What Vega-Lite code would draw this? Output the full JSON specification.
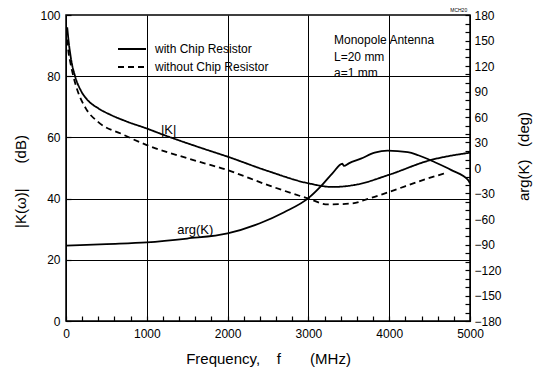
{
  "$schema": "https://vega.github.io/schema/vega-lite/v6.json",
  "autosize": {"type": "none"},
  "padding": {"left": 66, "top": 15, "right": 66, "bottom": 49},
  "width": 404,
  "height": 306,
  "background": "white",
  "config": {
    "font": "Liberation Sans",
    "view": {"stroke": "black", "strokeWidth": 1.5},
    "axis": {"domainColor": "black", "tickColor": "black", "gridColor": "black", "labelColor": "black", "titleColor": "black", "labelFont": "Liberation Sans", "titleFont": "Liberation Sans", "labelFontSize": 12, "titleFontSize": 15, "titleFontWeight": "normal", "labelOverlap": false, "labelBound": false, "labelFlush": false}
  },
  "datasets": {
    "K": [
      {"curve": "with Chip Resistor", "f": 15, "v": 96},
      {"curve": "with Chip Resistor", "f": 30, "v": 92},
      {"curve": "with Chip Resistor", "f": 60, "v": 86},
      {"curve": "with Chip Resistor", "f": 112, "v": 80},
      {"curve": "with Chip Resistor", "f": 180, "v": 75.5},
      {"curve": "with Chip Resistor", "f": 257, "v": 72.5},
      {"curve": "with Chip Resistor", "f": 400, "v": 69.5},
      {"curve": "with Chip Resistor", "f": 550, "v": 67.4},
      {"curve": "with Chip Resistor", "f": 750, "v": 65.2},
      {"curve": "with Chip Resistor", "f": 1000, "v": 62.9},
      {"curve": "with Chip Resistor", "f": 1200, "v": 60.9},
      {"curve": "with Chip Resistor", "f": 1600, "v": 57.2},
      {"curve": "with Chip Resistor", "f": 2000, "v": 53.7},
      {"curve": "with Chip Resistor", "f": 2500, "v": 49},
      {"curve": "with Chip Resistor", "f": 3000, "v": 45},
      {"curve": "with Chip Resistor", "f": 3300, "v": 43.8},
      {"curve": "with Chip Resistor", "f": 3600, "v": 44.6},
      {"curve": "with Chip Resistor", "f": 4000, "v": 47.8},
      {"curve": "with Chip Resistor", "f": 4500, "v": 52.5},
      {"curve": "with Chip Resistor", "f": 5000, "v": 55},
      {"curve": "without Chip Resistor", "f": 15, "v": 92},
      {"curve": "without Chip Resistor", "f": 30, "v": 88},
      {"curve": "without Chip Resistor", "f": 50, "v": 85},
      {"curve": "without Chip Resistor", "f": 91, "v": 80},
      {"curve": "without Chip Resistor", "f": 140, "v": 75.5},
      {"curve": "without Chip Resistor", "f": 245, "v": 69.5},
      {"curve": "without Chip Resistor", "f": 400, "v": 65},
      {"curve": "without Chip Resistor", "f": 700, "v": 61},
      {"curve": "without Chip Resistor", "f": 1000, "v": 57.5},
      {"curve": "without Chip Resistor", "f": 1500, "v": 53.2},
      {"curve": "without Chip Resistor", "f": 2000, "v": 49.3},
      {"curve": "without Chip Resistor", "f": 2500, "v": 44.4},
      {"curve": "without Chip Resistor", "f": 3000, "v": 40},
      {"curve": "without Chip Resistor", "f": 3240, "v": 38.1},
      {"curve": "without Chip Resistor", "f": 3530, "v": 38.4},
      {"curve": "without Chip Resistor", "f": 3750, "v": 40},
      {"curve": "without Chip Resistor", "f": 4000, "v": 42.2},
      {"curve": "without Chip Resistor", "f": 4480, "v": 46.6},
      {"curve": "without Chip Resistor", "f": 4680, "v": 48.2}
    ],
    "arg": [
      {"f": 0, "deg": -91.4},
      {"f": 500, "deg": -89.5},
      {"f": 1000, "deg": -87.5},
      {"f": 1500, "deg": -83},
      {"f": 2000, "deg": -77},
      {"f": 2400, "deg": -65},
      {"f": 2700, "deg": -52},
      {"f": 3000, "deg": -35.5},
      {"f": 3150, "deg": -22},
      {"f": 3300, "deg": -6},
      {"f": 3420, "deg": 5},
      {"f": 3440, "deg": 2.5},
      {"f": 3500, "deg": 5.5},
      {"f": 3650, "deg": 11},
      {"f": 3820, "deg": 18},
      {"f": 3980, "deg": 20.5},
      {"f": 4230, "deg": 18.7},
      {"f": 4360, "deg": 15},
      {"f": 4560, "deg": 7},
      {"f": 4770, "deg": -2.5},
      {"f": 4980, "deg": -14.5},
      {"f": 5000, "deg": -18}
    ],
    "curveLabels": [
      {"f": 1270, "v": 62.5, "text": "|K|"},
      {"f": 1600, "v": 29.7, "text": "arg(K)"}
    ],
    "notes": [
      {"f": 3317, "v": 91.7, "text": "Monopole Antenna"},
      {"f": 3317, "v": 86.3, "text": "L=20 mm"},
      {"f": 3317, "v": 81, "text": "a=1 mm"}
    ],
    "tag": [
      {"f": 4860, "v": 101.5, "text": "MCH20"}
    ]
  },
  "encoding": {
    "x": {"field": "f", "type": "quantitative", "scale": {"domain": [0, 5000], "nice": false},
      "axis": {"values": [0,200,400,600,800,1000,1200,1400,1600,1800,2000,2200,2400,2600,2800,3000,3200,3400,3600,3800,4000,4200,4400,4600,4800,5000],
        "format": "d", "labelExpr": "round(datum.value) % 1000 == 0 ? datum.label : ''",
        "grid": true, "gridOpacity": {"condition": {"test": "round(datum.value) % 1000 == 0 && datum.value > 1 && datum.value < 4999", "value": 1}, "value": 0},
        "tickSize": -5, "tickWidth": 1.2, "labelPadding": 12,
        "title": "Frequency,\u00a0\u00a0\u00a0\u00a0f\u00a0\u00a0\u00a0\u00a0\u00a0\u00a0\u00a0(MHz)", "titleY": 37, "titleBaseline": "middle"}}
  },
  "layer": [
    {
      "layer": [
        {
          "data": {"name": "K"},
          "mark": {"type": "line", "color": "black", "strokeWidth": 1.8, "clip": true, "interpolate": "monotone"},
          "encoding": {
            "y": {"field": "v", "type": "quantitative", "scale": {"domain": [0, 100], "nice": false},
              "axis": {"values": [0,5,10,15,20,25,30,35,40,45,50,55,60,65,70,75,80,85,90,95,100],
                "labelExpr": "datum.value % 20 == 0 ? datum.label : ''",
                "grid": true, "gridOpacity": {"condition": {"test": "datum.value % 20 == 0 && datum.value > 0 && datum.value < 100", "value": 1}, "value": 0},
                "tickSize": -5, "tickWidth": 1.2, "labelPadding": 11,
                "title": "|K(\u03c9)|\u00a0\u00a0\u00a0\u00a0\u00a0\u00a0(dB)", "titleAngle": -90, "titleX": -46, "titleY": 166, "titleAlign": "center", "titleBaseline": "middle"}},
            "strokeDash": {"field": "curve", "type": "nominal",
              "scale": {"domain": ["with Chip Resistor", "without Chip Resistor"], "range": [[1, 0], [6, 4]]},
              "legend": {"orient": "none", "legendX": 51, "legendY": 26, "title": null, "symbolType": "stroke", "symbolSize": 784, "symbolStrokeWidth": 1.8, "symbolStrokeColor": "black", "clipHeight": 16, "rowPadding": 2, "labelFontSize": 12, "labelColor": "black", "labelOffset": 8, "padding": 0}}
          }
        },
        {
          "data": {"name": "curveLabels"},
          "mark": {"type": "text", "fontSize": 13, "color": "black", "align": "center", "baseline": "middle"},
          "encoding": {
            "y": {"field": "v", "type": "quantitative"},
            "text": {"field": "text"}
          }
        },
        {
          "data": {"name": "notes"},
          "mark": {"type": "text", "fontSize": 12, "color": "black", "align": "left", "baseline": "middle"},
          "encoding": {
            "y": {"field": "v", "type": "quantitative"},
            "text": {"field": "text"}
          }
        },
        {
          "data": {"name": "tag"},
          "mark": {"type": "text", "fontSize": 5, "color": "black", "align": "center", "baseline": "middle", "clip": false},
          "encoding": {
            "y": {"field": "v", "type": "quantitative"},
            "text": {"field": "text"}
          }
        }
      ]
    },
    {
      "data": {"name": "arg"},
      "mark": {"type": "line", "color": "black", "strokeWidth": 1.8, "interpolate": "monotone"},
      "encoding": {
        "y": {"field": "deg", "type": "quantitative", "scale": {"domain": [-180, 180], "nice": false},
          "axis": {"orient": "right", "values": [-180,-170,-160,-150,-140,-130,-120,-110,-100,-90,-80,-70,-60,-50,-40,-30,-20,-10,0,10,20,30,40,50,60,70,80,90,100,110,120,130,140,150,160,170,180],
            "labelExpr": "datum.value % 30 == 0 ? datum.label : ''", "grid": false,
            "tickSize": -5, "tickWidth": 1.2, "labelPadding": 9,
            "title": "arg(K)\u00a0\u00a0\u00a0(deg)", "titleAngle": -90, "titleX": 53, "titleY": 141, "titleAlign": "center", "titleBaseline": "middle"}}
      }
    }
  ],
  "resolve": {"scale": {"y": "independent"}}
}
